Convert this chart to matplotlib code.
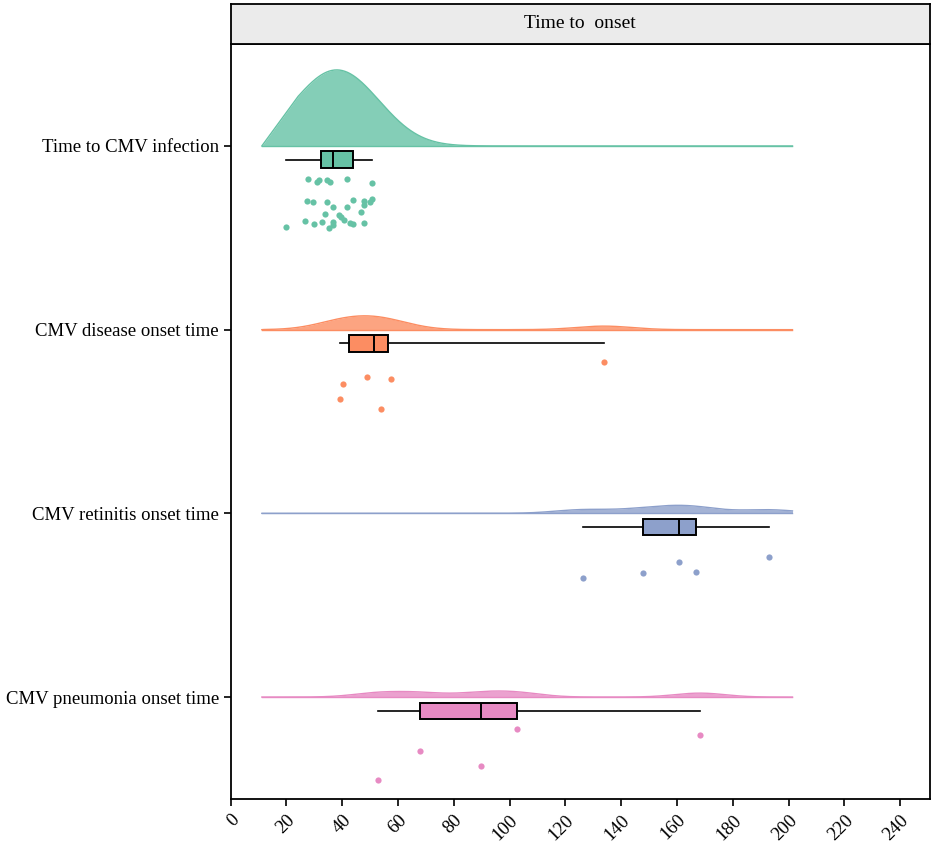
import numpy as np
import matplotlib.pyplot as plt
from matplotlib.transforms import ScaledTranslation

plt.rcParams['font.family'] = ['Liberation Serif', 'DejaVu Serif']

groups = ["Time to CMV infection", "CMV disease onset time",
          "CMV retinitis onset time", "CMV pneumonia onset time"]
colors = ["#66C2A5", "#FC8D62", "#8DA0CB", "#E78AC3"]

time_infection = [27.8, 30.9, 31.8, 34.7, 35.6, 41.8, 50.8, 27.3, 29.4, 34.7, 36.8,
                  41.8, 43.8, 47.8, 47.8, 50.0, 50.8, 33.8, 38.7, 39.7, 40.6, 46.7,
                  26.8, 29.9, 32.8, 36.8, 36.6, 35.2, 42.8, 43.8, 47.8, 19.7]
time_disease = [133.8, 48.8, 57.4, 40.3, 39.3, 53.8]
time_retinitis = [126.2, 147.8, 160.8, 166.8, 192.9]
time_pneumonia = [102.8, 168.2, 67.8, 89.7, 52.8]

# vertical jitter of the raw points (in category units, below each row)
jit_infection = [0.18, 0.194, 0.185, 0.185, 0.196, 0.181, 0.203, 0.301, 0.305, 0.303, 0.332,
                 0.332, 0.294, 0.298, 0.323, 0.305, 0.287, 0.369, 0.377, 0.387, 0.403, 0.358,
                 0.407, 0.423, 0.412, 0.414, 0.43, 0.445, 0.421, 0.423, 0.418, 0.443]
jit_disease = [0.176, 0.256, 0.271, 0.294, 0.377, 0.43]
jit_retinitis = [0.35, 0.323, 0.265, 0.317, 0.24]
jit_pneumonia = [0.173, 0.208, 0.294, 0.377, 0.45]

data = [time_infection, time_disease, time_retinitis, time_pneumonia]
jitter = [jit_infection, jit_disease, jit_retinitis, jit_pneumonia]

xticks = list(range(0, 241, 20))
strip_title = "Time to  onset"

bws = [12.5, 10.0, 10.0, 9.0]
pad = 8.5
lo = min(min(d) for d in data) - pad
hi = max(max(d) for d in data) + pad
grid = np.linspace(lo, hi, 600)


def kde(vals, x, h):
    v = np.asarray(vals)[:, None]
    return np.exp(-0.5 * ((x[None, :] - v) / h) ** 2).sum(0) / (len(vals) * h * np.sqrt(2 * np.pi))


# scale="count": density * n, tallest gets max height
heights = []
for d, b in zip(data, bws):
    dens = kde(d, grid, b) * len(d)
    # the curve leaves the baseline in a straight ramp up to just past the first point
    xr = min(d) + 0.35 * b
    yr = kde(d, np.array([xr]), b)[0] * len(d)
    ramp = grid < xr
    dens[ramp] = np.minimum(dens[ramp], yr * (grid[ramp] - lo) / (xr - lo))
    heights.append(dens)
vmax = max(h.max() for h in heights)
heights = [h / vmax * 0.414 for h in heights]

fig = plt.figure(figsize=(9.35, 8.48), dpi=100)
ax = fig.add_axes([230.6 / 935, 49 / 848, (930 - 230.6) / 935, 755 / 848])

for i, (d, j, c, h) in enumerate(zip(data, jitter, colors, heights)):
    y = i + 1
    ax.fill_between(grid, y, y - h, color=c, alpha=0.8, lw=0, zorder=2)
    ax.plot(grid, y - h, color=c, lw=1.0, zorder=3)
    ax.plot(grid, np.full_like(grid, y), color=c, lw=1.0, zorder=3)
    ax.boxplot([d], positions=[y + 0.075], widths=0.09, vert=False, whis=(0, 100),
               patch_artist=True, showfliers=False, manage_ticks=False,
               boxprops=dict(facecolor=c, edgecolor='black', lw=1.4),
               medianprops=dict(color='black', lw=1.4),
               whiskerprops=dict(color='black', lw=1.2),
               capprops=dict(lw=0), zorder=4)
    ax.scatter(d, y + np.asarray(j), s=20, color=c, lw=0, zorder=5)

ax.set_xlim(0, 250.7)
ax.set_ylim(4.555, 0.445)
ax.set_yticks([1, 2, 3, 4])
ax.set_yticklabels(groups, fontsize=13.5)
ax.set_xticks(xticks)
ax.set_xticklabels([str(t) for t in xticks], fontsize=13.5, rotation=45,
                   ha='right', va='top', rotation_mode='anchor')
shift = ScaledTranslation(-3 / 100, -3 / 100, fig.dpi_scale_trans)
for lab in ax.get_xticklabels():
    lab.set_transform(lab.get_transform() + shift)
ax.tick_params(axis='both', direction='out', length=5, width=1.2, color='black')
ax.tick_params(axis='x', pad=4)
for s in ax.spines.values():
    s.set_linewidth(1.3)
    s.set_color('black')

# facet strip on top
sax = fig.add_axes([230.6 / 935, (848 - 44) / 848, (930 - 230.6) / 935, 40 / 848])
sax.set_xticks([])
sax.set_yticks([])
sax.set_facecolor('#EBEBEB')
for s in sax.spines.values():
    s.set_linewidth(1.3)
    s.set_color('black')
sax.text(0.5, 0.5, strip_title, ha='center', va='center', fontsize=14,
         transform=sax.transAxes)

fig.savefig('out.png', dpi=100)
